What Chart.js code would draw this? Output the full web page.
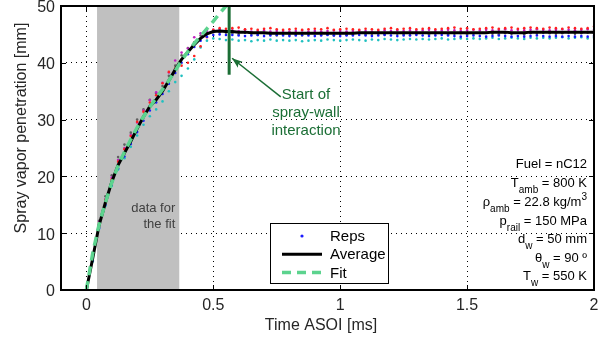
<!DOCTYPE html>
<html>
<head>
<meta charset="utf-8">
<script src="https://cdn.jsdelivr.net/npm/chart.js@4"></script>
<style>
  body { margin: 0; background: #fff; }
  #wrap { width: 598px; height: 343px; }
</style>
</head>
<body>
<div id="wrap"><canvas id="myChart" width="598" height="343"></canvas></div>
<script>
const FONT = '"Liberation Sans", Arial, sans-serif';

// time ASOI [ms]
const TIME = [0,0.025,0.05,0.075,0.1,0.125,0.15,0.175,0.2,0.225,
  0.25,0.275,0.3,0.325,0.35,0.375,0.4,0.425,0.45,0.475,
  0.5,0.525,0.55,0.575,0.6,0.625,0.65,0.675,0.7,0.725,
  0.75,0.775,0.8,0.825,0.85,0.875,0.9,0.925,0.95,0.975,
  1,1.025,1.05,1.075,1.1,1.125,1.15,1.175,1.2,1.225,
  1.25,1.275,1.3,1.325,1.35,1.375,1.4,1.425,1.45,1.475,
  1.5,1.525,1.55,1.575,1.6,1.625,1.65,1.675,1.7,1.725,
  1.75,1.775,1.8,1.825,1.85,1.875,1.9,1.925,1.95,1.975,2];

const AVERAGE = [0,5.6,11.4,15.4,19.0,22.0,24.1,26.2,28.4,30.5,32.3,33.5,35.0,36.9,38.8,40.6,41.9,43.2,44.3,45.1,45.5,45.6,45.5,
  45.5,45.4,45.4,45.3,45.3,45.3,45.2,45.2,45.2,45.2,
  45.2,45.2,45.2,45.2,45.2,45.2,45.2,45.2,45.2,45.2,
  45.3,45.3,45.3,45.3,45.3,45.3,45.3,45.3,45.3,45.3,
  45.3,45.3,45.3,45.3,45.3,45.3,45.3,45.3,45.3,45.3,
  45.3,45.4,45.4,45.4,45.3,45.3,45.3,45.4,45.4,45.4,
  45.4,45.4,45.4,45.4,45.4,45.4,45.4,45.4];

// power-law fit, only up to where it leaves the axes
const FIT = [0,6.5,11.5,15.4,18.9,21.9,24.3,26.5,28.6,30.5,32.2,33.8,35.3,36.9,38.6,40.4,42.0,43.4,44.7,46.0,47.3,48.7,50.0];

const REP_RED = [0.3,6.0,11.8,15.9,19.5,22.6,24.8,27.1,29.6,31.4,33.0,34.3,36.4,38.4,39.0,39.5,40.0,41.2,42.9,44.5,45.8,46.1,46.0,
  46.1,46.2,45.9,46.0,45.8,46.0,46.1,45.9,45.8,45.9,46.0,45.8,45.9,46.0,45.9,46.1,45.8,45.9,46.0,45.9,
  45.8,46.0,45.9,45.8,46.0,46.1,45.9,46.0,46.1,45.9,46.0,46.1,45.9,46.0,46.1,46.2,46.0,46.1,45.9,46.0,
  46.1,46.2,46.0,46.1,46.2,46.0,46.1,46.2,46.1,46.0,46.2,46.1,46.0,46.2,46.1,46.0,46.1,46.4];
const REP_BLUE = [0,5.2,10.9,15.0,18.5,21.4,23.5,25.7,27.8,29.8,31.6,33.0,34.5,36.3,38.2,40.0,41.5,42.8,43.9,44.6,44.9,45.0,44.9,
  44.9,44.8,44.7,44.8,44.9,44.7,44.8,44.9,44.8,44.7,44.8,44.9,44.8,44.7,44.8,44.9,44.8,44.7,44.8,44.8,
  44.9,44.8,44.7,44.8,44.9,44.8,44.7,44.8,44.8,44.9,44.8,44.7,44.8,44.9,44.8,44.7,44.6,44.7,44.8,44.7,
  44.6,44.7,44.8,44.7,44.6,44.7,44.6,44.7,44.8,44.7,44.6,44.7,44.6,44.7,44.6,44.7,44.6,44.7];
const REP_CYAN = [0,5.0,10.8,14.8,18.3,21.2,23.2,25.2,27.2,29.1,30.6,31.8,33.2,35.0,36.6,37.7,39.0,40.6,42.7,43.9,44.3,44.2,44.0,
  44.1,43.9,44.0,43.8,44.0,43.9,44.1,43.9,44.0,43.9,44.0,43.8,43.9,44.0,43.9,44.1,44.0,43.9,44.0,44.1,
  44.0,43.9,44.1,44.0,44.2,44.1,44.0,44.1,44.2,44.1,44.2,44.1,44.2,44.3,44.1,44.2,44.3,44.2,44.3,44.2,
  44.3,44.4,44.2,44.3,44.4,44.3,44.2,44.4,44.3,44.4,44.3,44.4,44.5,44.3,44.4,44.5,44.3,44.4];
const REP_MAGENTA = [0.5,6.2,12.0,16.0,19.8,22.9,25.0,27.3,29.5,31.6,33.4,34.8,36.5,38.3,40.4,41.8,42.5,44.5,45.2,45.6,45.8,45.8,45.7,
  45.7,45.6,45.8,45.5,45.6,45.7,45.5,45.6,45.6,45.5,45.6,45.7,45.5,45.6,45.5,45.6,45.7,45.6,45.5,45.6,
  45.7,45.6,45.5,45.6,45.7,45.6,45.7,45.6,45.7,45.6,45.7,45.8,45.6,45.7,45.8,45.7,45.6,45.7,45.8,45.7,
  45.8,45.7,45.8,45.9,45.7,45.8,45.7,45.8,45.9,45.8,45.7,45.8,45.9,45.8,45.7,45.8,45.9,45.8];
const REP_GRAY = [0,6.3,12.2,16.5,20.2,23.4,25.6,27.7,30.0,31.8,33.5,34.6,35.9,37.7,39.5,41.3,42.6,43.6,44.8,45.3,45.4,45.4,45.3,
  45.2,45.0,45.3,45.1,44.9,45.2,45.0,44.8,45.1,44.9,45.0,44.8,45.1,45.2,44.9,45.0,44.8,45.1,44.9,45.0,
  45.2,45.0,44.9,45.1,45.0,45.2,45.1,45.0,44.9,45.1,45.2,45.0,45.1,45.3,45.0,45.1,45.2,45.0,45.1,45.2,
  45.3,45.1,45.0,45.2,45.1,45.3,45.0,45.2,45.1,45.3,45.2,45.1,45.2,45.3,45.1,45.2,45.3,45.2];

const X_TICKS = [0, 0.5, 1, 1.5, 2];
const Y_TICKS = [0, 10, 20, 30, 40, 50];
const FIT_WINDOW = [0.042, 0.366];     // shaded "data for the fit" range [ms]
const WALL_TIME = 0.5625;              // start of spray-wall interaction [ms]

const PARAMS = [
  [['Fuel = nC12', 'n']],
  [['T', 'n'], ['amb', 'sub'], [' = 800 K', 'n']],
  [['\u03c1', 'n'], ['amb', 'sub'], [' = 22.8 kg/m', 'n'], ['3', 'sup']],
  [['p', 'n'], ['rail', 'sub'], [' = 150 MPa', 'n']],
  [['d', 'n'], ['w', 'sub'], [' = 50 mm', 'n']],
  [['\u03b8', 'n'], ['w', 'sub'], [' = 90 \u00ba', 'n']],
  [['T', 'n'], ['w', 'sub'], [' = 550 K', 'n']]
];

const pts = (ys, xs = TIME) => ys.map((v, i) => ({ x: xs[i], y: v }));

const repSets = [
  ['Reps', REP_BLUE, '#1a1aff'],
  ['', REP_RED, '#ff2020'],
  ['', REP_MAGENTA, '#c020c0'],
  ['', REP_GRAY, '#606060'],
  ['', REP_CYAN, '#20c0c0']
].map(([label, ys, color]) => ({
  label: label,
  data: pts(ys),
  showLine: false,
  pointRadius: 1.3,
  pointBorderWidth: 0,
  pointBackgroundColor: color,
  backgroundColor: color,
  borderColor: color,
  order: 3
}));

const avgSet = {
  label: 'Average',
  data: pts(AVERAGE),
  borderColor: '#000',
  borderWidth: 3,
  pointRadius: 0,
  tension: 0,
  order: 2
};

const fitSet = {
  label: 'Fit',
  data: pts(FIT),
  borderColor: '#5cd38e',
  borderWidth: 3.5,
  borderDash: [9, 6],
  pointRadius: 0,
  tension: 0,
  order: 1
};

function drawRich(ctx, segs, right, base) {
  const big = '13px ' + FONT, small = '10px ' + FONT;
  let w = 0;
  segs.forEach(([t, k]) => { ctx.font = k === 'n' ? big : small; w += ctx.measureText(t).width; });
  let x = right - w;
  ctx.textAlign = 'left';
  segs.forEach(([t, k]) => {
    ctx.font = k === 'n' ? big : small;
    const dy = k === 'sub' ? 6 : (k === 'sup' ? -6 : 0);
    ctx.fillText(t, x, base + dy);
    x += ctx.measureText(t).width;
  });
}

const overlay = {
  id: 'overlay',
  beforeDatasetsDraw(chart) {
    const { ctx, chartArea: a, scales: { x } } = chart;
    const x0 = x.getPixelForValue(FIT_WINDOW[0]);
    const x1 = x.getPixelForValue(FIT_WINDOW[1]);
    ctx.save();
    ctx.fillStyle = '#c0c0c0';
    ctx.fillRect(x0, a.top, x1 - x0, a.bottom - a.top);
    ctx.fillStyle = '#404040';
    ctx.font = '13px ' + FONT;
    ctx.textAlign = 'right';
    ctx.fillText('data for', x1 - 4, 212);
    ctx.fillText('the fit', x1 - 4, 228);
    ctx.restore();
  },
  afterDraw(chart) {
    const { ctx, chartArea: a, scales: { x, y } } = chart;
    ctx.save();

    // start of spray-wall interaction
    const green = '#1b6e35';
    const wx = x.getPixelForValue(WALL_TIME);
    ctx.strokeStyle = green;
    ctx.lineWidth = 3;
    ctx.beginPath();
    ctx.moveTo(wx, a.top);
    ctx.lineTo(wx, y.getPixelForValue(37.9));
    ctx.stroke();

    const tipX = x.getPixelForValue(0.574), tipY = y.getPixelForValue(40.8);
    const tailX = x.getPixelForValue(0.766), tailY = y.getPixelForValue(34.0);
    ctx.lineWidth = 1.5;
    ctx.beginPath();
    ctx.moveTo(tailX, tailY);
    ctx.lineTo(tipX, tipY);
    ctx.stroke();
    const ang = Math.atan2(tipY - tailY, tipX - tailX);
    ctx.fillStyle = green;
    ctx.beginPath();
    ctx.moveTo(tipX, tipY);
    ctx.lineTo(tipX - 11 * Math.cos(ang - 0.35), tipY - 11 * Math.sin(ang - 0.35));
    ctx.lineTo(tipX - 8 * Math.cos(ang), tipY - 8 * Math.sin(ang));
    ctx.lineTo(tipX - 11 * Math.cos(ang + 0.35), tipY - 11 * Math.sin(ang + 0.35));
    ctx.closePath();
    ctx.fill();

    ctx.font = '15px ' + FONT;
    ctx.textAlign = 'center';
    ctx.fillText('Start of', 306, 99);
    ctx.fillText('spray-wall', 306, 117);
    ctx.fillText('interaction', 306, 135);

    // operating conditions
    ctx.fillStyle = '#000';
    const bases = [168, 187, 206, 225, 243, 262, 280];
    PARAMS.forEach((segs, i) => drawRich(ctx, segs, 587, bases[i]));

    // legend
    const lx = 270, ly = 223, lw = 118, lh = 60;
    ctx.fillStyle = '#fff';
    ctx.fillRect(lx, ly, lw, lh);
    ctx.strokeStyle = '#000';
    ctx.lineWidth = 1;
    ctx.strokeRect(lx + 0.5, ly + 0.5, lw, lh);
    const items = [repSets[0], avgSet, fitSet];
    ctx.font = '15px ' + FONT;
    ctx.textAlign = 'left';
    ctx.textBaseline = 'middle';
    items.forEach((ds, i) => {
      const cy = ly + 13 + i * 18.3;
      if (ds.showLine === false) {
        ctx.fillStyle = ds.pointBackgroundColor;
        ctx.beginPath();
        ctx.arc(lx + 32, cy, 1.6, 0, Math.PI * 2);
        ctx.fill();
      } else {
        ctx.strokeStyle = ds.borderColor;
        ctx.lineWidth = ds.borderWidth;
        ctx.setLineDash(ds.borderDash || []);
        ctx.beginPath();
        ctx.moveTo(lx + 12, cy);
        ctx.lineTo(lx + 52, cy);
        ctx.stroke();
        ctx.setLineDash([]);
      }
      ctx.fillStyle = '#000';
      ctx.fillText(ds.label, lx + 60, cy + 1);
    });
    ctx.textBaseline = 'alphabetic';

    // axes box and inward ticks
    ctx.strokeStyle = '#000';
    ctx.lineWidth = 2;
    ctx.strokeRect(a.left, a.top, a.right - a.left, a.bottom - a.top);
    ctx.lineWidth = 1;
    ctx.beginPath();
    X_TICKS.forEach(v => {
      const px = Math.round(x.getPixelForValue(v)) + 0.5;
      ctx.moveTo(px, a.bottom); ctx.lineTo(px, a.bottom - 5);
      ctx.moveTo(px, a.top); ctx.lineTo(px, a.top + 5);
    });
    Y_TICKS.forEach(v => {
      const py = Math.round(y.getPixelForValue(v)) + 0.5;
      ctx.moveTo(a.left, py); ctx.lineTo(a.left + 5, py);
      ctx.moveTo(a.right, py); ctx.lineTo(a.right - 5, py);
    });
    ctx.stroke();

    // axis titles
    ctx.fillStyle = '#262626';
    ctx.font = '16px ' + FONT;
    ctx.textAlign = 'center';
    ctx.fillText('Time ASOI [ms]', 321, 330);
    ctx.translate(26, 128);
    ctx.rotate(-Math.PI / 2);
    ctx.fillText('Spray vapor penetration [mm]', 0, 0);
    ctx.restore();
  }
};

new Chart(document.getElementById('myChart').getContext('2d'), {
  type: 'line',
  data: { datasets: [...repSets, avgSet, fitSet] },
  options: {
    responsive: false,
    animation: false,
    layout: { padding: { top: 6, right: 1, left: 0, bottom: 0 } },
    plugins: { legend: { display: false }, tooltip: { enabled: false } },
    scales: {
      x: {
        type: 'linear',
        min: -0.1,
        max: 2,
        afterBuildTicks: s => { s.ticks = X_TICKS.map(v => ({ value: v })); },
        afterFit: s => { s.height = 53; s.paddingLeft = 0; s.paddingRight = 0; },
        ticks: {
          color: '#262626',
          font: { family: FONT, size: 16 },
          padding: 6,
          maxRotation: 0,
          callback: v => String(v)
        },
        grid: { color: '#000', lineWidth: 1, drawTicks: false },
        border: { display: false, dash: [1, 4] }
      },
      y: {
        min: 0,
        max: 50,
        afterBuildTicks: s => { s.ticks = Y_TICKS.map(v => ({ value: v })); },
        afterFit: s => { s.width = 61; s.paddingTop = 0; s.paddingBottom = 0; },
        ticks: {
          color: '#262626',
          font: { family: FONT, size: 16 },
          padding: 6,
          labelOffset: 2,
          callback: v => String(v)
        },
        grid: { color: '#000', lineWidth: 1, drawTicks: false },
        border: { display: false, dash: [1, 4] }
      }
    }
  },
  plugins: [overlay]
});
</script>
</body>
</html>
